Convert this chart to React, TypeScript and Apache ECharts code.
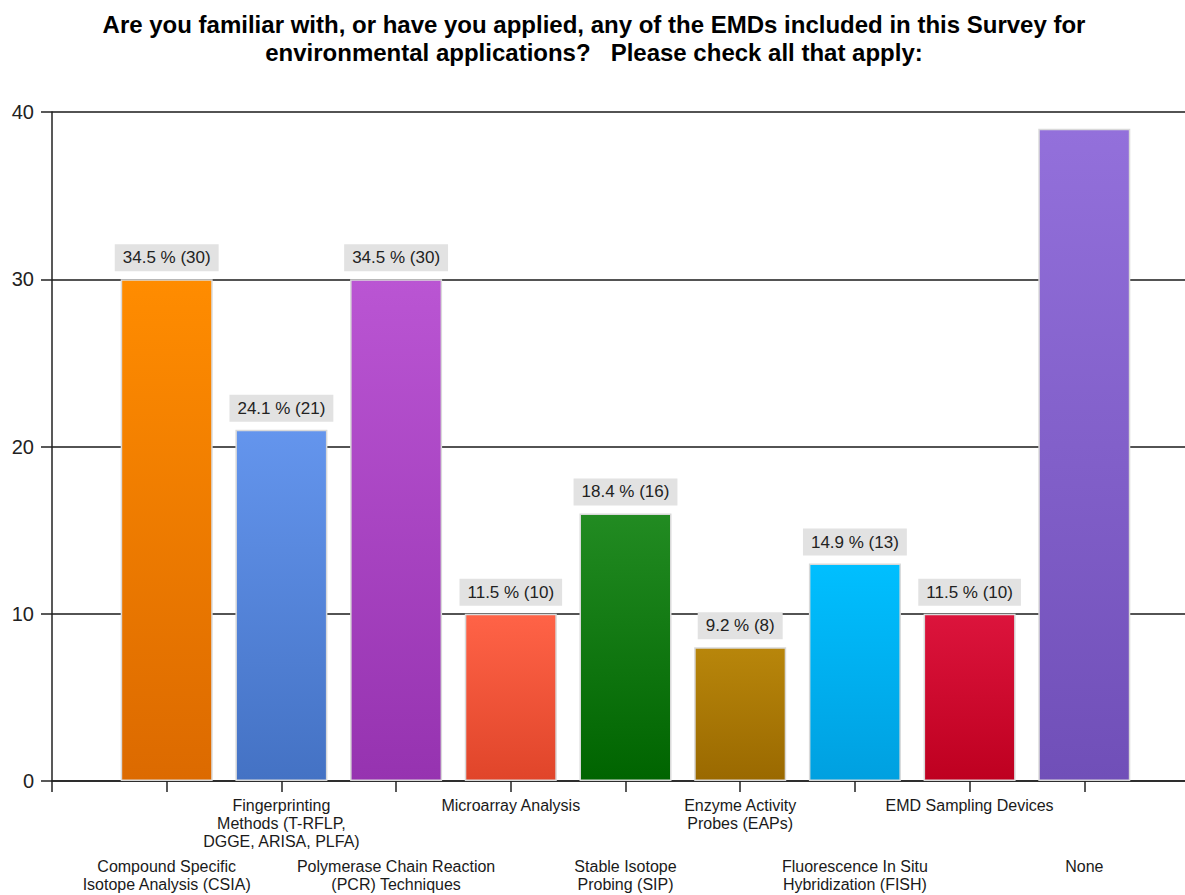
import React, { useEffect, useRef } from "react";
import * as echarts from "echarts";

const titleText =
  "Are you familiar with, or have you applied, any of the EMDs included in this Survey for\nenvironmental applications?   Please check all that apply:";

const categories = [
  "Compound Specific\nIsotope Analysis (CSIA)",
  "Fingerprinting\nMethods (T-RFLP,\nDGGE, ARISA, PLFA)",
  "Polymerase Chain Reaction\n(PCR) Techniques",
  "Microarray Analysis",
  "Stable Isotope\nProbing (SIP)",
  "Enzyme Activity\nProbes (EAPs)",
  "Fluorescence In Situ\nHybridization (FISH)",
  "EMD Sampling Devices",
  "None",
];

const values = [30, 21, 30, 10, 16, 8, 13, 10, 39];
const percentLabels = ["34.5 %", "24.1 %", "34.5 %", "11.5 %", "18.4 %", "9.2 %", "14.9 %", "11.5 %", ""];

const topColors = ["#ff8c00", "#6495ed", "#ba55d3", "#ff6347", "#228b22", "#b8860b", "#00bfff", "#dc143c", "#9370db"];
const bottomColors = ["#dc6a00", "#4472c4", "#9633b0", "#e0452a", "#006400", "#9a6900", "#00a0e0", "#be0020", "#704fb8"];

const yMin = 0;
const yMax = 40;
const yInterval = 10;

const xMin = 0;
const xMax = 10;

const FONT = "'Liberation Sans', Arial, sans-serif";

export default function App() {
  const ref = useRef<HTMLDivElement>(null);

  useEffect(() => {
    if (!ref.current) return;
    const chart = echarts.init(ref.current, undefined, { renderer: "svg" });

    const data = values.map((v, i) => ({
      value: [i + 1, v],
      itemStyle: {
        color: new echarts.graphic.LinearGradient(0, 0, 0, 1, [
          { offset: 0, color: topColors[i] },
          { offset: 1, color: bottomColors[i] },
        ]),
        borderColor: "#d9d9d9",
        borderWidth: 1.5,
      },
      label: { show: percentLabels[i] !== "" },
    }));

    chart.setOption({
      animation: false,
      backgroundColor: "#ffffff",
      title: {
        text: titleText,
        left: 589,
        top: 5,
        textAlign: "center",
        textStyle: {
          fontFamily: FONT,
          fontSize: 24,
          fontWeight: "bold",
          color: "#000",
          lineHeight: 28,
          align: "center",
        },
      },
      grid: { left: 52, right: 0, top: 112, bottom: 114, containLabel: false },
      xAxis: {
        type: "value",
        min: xMin,
        max: xMax,
        interval: 1,
        splitLine: { show: false },
        axisLine: { show: true, lineStyle: { color: "#222", width: 1.5 } },
        axisTick: { show: true, length: 11, lineStyle: { color: "#222", width: 1.5 } },
        axisLabel: {
          show: true,
          margin: 15,
          verticalAlign: "top",
          align: "center",
          formatter: (val: number) => {
            const idx = Math.round(val) - 1;
            if (Math.abs(val - Math.round(val)) > 1e-6 || idx < 0 || idx >= categories.length) return "";
            const lines = categories[idx].split("\n").map((l) => `{t|${l}}`).join("\n");
            return idx % 2 === 0 ? `{gap| }\n${lines}` : lines;
          },
          rich: {
            t: { fontFamily: FONT, fontSize: 16, lineHeight: 18, color: "#1a1a1a", align: "center" },
            gap: { fontSize: 10, lineHeight: 61 },
          },
        },
      },
      yAxis: {
        type: "value",
        min: yMin,
        max: yMax,
        interval: yInterval,
        axisLine: { show: true, lineStyle: { color: "#222", width: 1.5 } },
        axisTick: { show: true, length: 11, lineStyle: { color: "#222", width: 1.5 } },
        splitLine: { show: true, lineStyle: { color: "#1a1a1a", width: 1.5 } },
        axisLabel: { fontFamily: FONT, fontSize: 20, color: "#222", margin: 18 },
      },
      series: [
        {
          type: "bar",
          barWidth: 92,
          data,
          label: {
            show: true,
            position: "top",
            distance: 8,
            formatter: (p: any) => {
              const i = p.dataIndex;
              return percentLabels[i] ? `${percentLabels[i]} (${values[i]})` : "";
            },
            backgroundColor: "#e2e2e2",
            padding: [4, 8, 4, 8],
            fontFamily: FONT,
            fontSize: 17,
            lineHeight: 19,
            color: "#222",
          },
        },
      ],
    });

    return () => chart.dispose();
  }, []);

  return (
    <div style={{ position: "fixed", left: 0, top: 0, width: 1185, height: 895, overflow: "hidden", background: "#fff" }}>
      <div ref={ref} style={{ position: "absolute", left: 0, top: 0, width: 1202, height: 895 }} />
    </div>
  );
}
